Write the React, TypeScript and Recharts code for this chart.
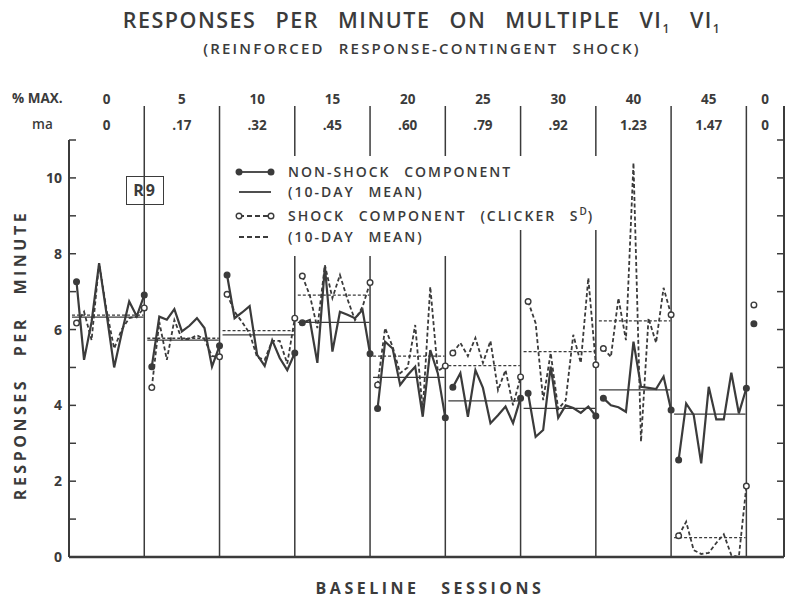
import { Legend, Line, LineChart, ReferenceLine, XAxis, YAxis } from "recharts";

// header rows above the phases
const PCT_MAX = ["0", "5", "10", "15", "20", "25", "30", "40", "45", "0"];
const MA = ["0", ".17", ".32", ".45", ".60", ".79", ".92", "1.23", "1.47", "0"];

// responses per minute, 10 sessions per phase
const NON_SHOCK = [
  [7.26, 5.2, 6.2, 7.75, 6.4, 5.0, 5.9, 6.74, 6.35, 6.91],
  [5.02, 6.34, 6.26, 6.54, 5.95, 6.1, 6.3, 6.04, 5.02, 5.57],
  [7.44, 6.3, 6.45, 6.62, 5.33, 5.04, 5.72, 5.25, 4.93, 5.38],
  [6.18, 6.25, 5.12, 7.66, 5.42, 6.47, 6.39, 6.3, 6.52, 5.36],
  [3.92, 5.68, 5.5, 4.54, 4.8, 5.02, 3.7, 5.46, 4.85, 3.67],
  [4.48, 4.85, 3.7, 4.93, 4.46, 3.53, 3.74, 3.97, 3.53, 4.19],
  [4.32, 3.17, 3.35, 5.02, 3.67, 4.0, 3.93, 3.8, 3.97, 3.72],
  [4.19, 4.0, 3.95, 3.83, 5.68, 4.49, 4.46, 4.43, 4.76, 3.88],
  [2.56, 4.05, 3.75, 2.47, 4.49, 3.63, 3.63, 4.86, 3.79, 4.45],
];

const SHOCK = [
  [6.17, 6.47, 5.72, 7.75, 6.5, 5.5, 6.0, 6.3, 6.34, 6.57],
  [4.47, 6.2, 5.2, 6.25, 5.75, 5.75, 5.85, 5.75, 5.3, 5.28],
  [6.93, 6.47, 6.2, 5.9, 5.27, 5.2, 5.7, 5.7, 5.1, 6.3],
  [7.41, 6.9, 6.04, 7.7, 6.83, 7.44, 6.8, 6.25, 6.6, 7.24],
  [4.54, 6.04, 5.55, 4.85, 5.0, 6.12, 3.85, 7.13, 4.9, 5.04],
  [5.38, 5.65, 5.3, 5.78, 5.12, 5.7, 4.4, 4.93, 4.0, 4.75],
  [6.74, 6.17, 4.14, 5.38, 3.9, 4.14, 5.86, 5.12, 7.36, 5.07],
  [5.5, 5.28, 6.83, 5.72, 10.4, 3.04, 6.3, 5.65, 7.1, 6.39],
  [0.56, 0.93, 0.18, 0.08, 0.11, 0.37, 0.6, 0.05, 0.0, 1.87],
];

// 10-day means
const NON_SHOCK_MEAN = [6.33, 5.72, 5.86, 6.19, 4.74, 4.12, 3.92, 4.41, 3.77];
const SHOCK_MEAN = [6.38, 5.77, 5.97, 6.91, 5.3, 5.05, 5.42, 6.23, 0.51];

// single return-to-baseline session
const FINAL_NON_SHOCK = 6.15;
const FINAL_SHOCK = 6.65;

const Y_TICKS = [0, 1, 2, 3, 4, 5, 6, 7, 8, 9, 10, 11];
const DIVIDERS = [10, 20, 30, 40, 50, 60, 70, 80, 90, 95];
const PHASE_CENTERS = [5, 15, 25, 35, 45, 55, 65, 75, 85, 92.5];
const X_MAX = 95;

const INK = "#3b3b3b";
const FONT = "'Open Sans', 'DejaVu Sans', sans-serif";

const phasePoints = (vals: number[], p: number) => vals.map((y, i) => ({ x: p * 10 + 1 + i, y }));
const meanPoints = (m: number, p: number) => [
  { x: p * 10 + 0.4, y: m },
  { x: p * 10 + 9.9, y: m },
];

function endDot(filled: boolean, last: number) {
  return (props: any) => {
    const { cx, cy, index } = props;
    if (index !== 0 && index !== last) return <g key={`d${index}`} />;
    return (
      <circle
        key={`d${index}`}
        cx={cx}
        cy={cy}
        r={2.8}
        fill={filled ? INK : "#fff"}
        stroke={INK}
        strokeWidth={1.4}
      />
    );
  };
}

// left axis: inward tick on every unit, label on even values
function LeftTick(props: any) {
  const { x, y, payload } = props;
  const v = payload.value;
  return (
    <g>
      <line x1={x} x2={x + 7} y1={y} y2={y} stroke={INK} strokeWidth={1.5} />
      {v % 2 === 0 && v <= 10 && (
        <text x={x - 7} y={y + 5} textAnchor="end" fontFamily={FONT} fontWeight={700} fontSize={14} fill={INK}>
          {v}
        </text>
      )}
    </g>
  );
}

function HeaderTick(props: any) {
  const { x, payload } = props;
  const i = PHASE_CENTERS.indexOf(payload.value);
  return (
    <g fontFamily={FONT} fontWeight={700} fontSize={13.5} fill={INK} textAnchor="middle">
      <text x={x} y={104}>{PCT_MAX[i]}</text>
      <text x={x} y={130}>{MA[i]}</text>
    </g>
  );
}

function LegendSymbol({ dashed, dots, filled }: { dashed: boolean; dots: boolean; filled?: boolean }) {
  return (
    <svg width={40} height={10} style={{ position: "absolute", left: 3, top: -5 }}>
      <line x1={4} x2={36} y1={5} y2={5} stroke={INK} strokeWidth={1.8} strokeDasharray={dashed ? "5 3" : undefined} />
      {dots && (
        <>
          <circle cx={4} cy={5} r={2.8} fill={filled ? INK : "#fff"} stroke={INK} strokeWidth={1.4} />
          <circle cx={36} cy={5} r={2.8} fill={filled ? INK : "#fff"} stroke={INK} strokeWidth={1.4} />
        </>
      )}
    </svg>
  );
}

function LegendBox() {
  const text: React.CSSProperties = {
    position: "absolute",
    left: 56,
    fontFamily: FONT,
    fontWeight: 600,
    fontSize: 14,
    letterSpacing: 2,
    wordSpacing: 8,
    color: INK,
    whiteSpace: "nowrap",
    lineHeight: "14px",
    top: -7,
  };
  const rows = [
    { top: 16, dashed: false, dots: true, filled: true, label: <>NON-SHOCK COMPONENT</> },
    { top: 36, dashed: false, dots: false, label: <>(10-DAY MEAN)</> },
    {
      top: 60,
      dashed: true,
      dots: true,
      filled: false,
      label: (
        <>
          SHOCK COMPONENT (CLICKER S
          <span style={{ fontSize: 10, letterSpacing: 1, position: "relative", top: -6 }}>D</span>)
        </>
      ),
    },
    { top: 81, dashed: true, dots: false, label: <>(10-DAY MEAN)</> },
  ];
  return (
    <div style={{ position: "relative", width: 370, height: 100 }}>
      <div style={{ position: "absolute", left: 0, top: 0, width: 370, height: 74, background: "#fff" }} />
      <div style={{ position: "absolute", left: 0, top: 74, width: 222, height: 26, background: "#fff" }} />
      {rows.map((r, i) => (
        <div key={i} style={{ position: "absolute", left: 0, top: r.top }}>
          <LegendSymbol dashed={r.dashed} dots={r.dots} filled={r.filled} />
          <div style={text}>{r.label}</div>
        </div>
      ))}
    </div>
  );
}

export default function App() {
  const label: React.CSSProperties = {
    position: "absolute",
    fontFamily: FONT,
    color: INK,
    whiteSpace: "nowrap",
  };
  return (
    <div style={{ position: "absolute", left: 0, top: 0, width: 791, height: 599, background: "#fff" }}>
      <LineChart width={791} height={599} margin={{ top: 139, right: 7, bottom: 41, left: 39 }}>
        <XAxis xAxisId="x" type="number" dataKey="x" domain={[0, X_MAX]} tick={false} tickLine={false} height={1}
          axisLine={{ stroke: INK, strokeWidth: 2.5 }} />
        <XAxis xAxisId="top" orientation="top" type="number" dataKey="x" domain={[0, X_MAX]} ticks={PHASE_CENTERS}
          interval={0} axisLine={false} tickLine={false} height={1} tick={<HeaderTick />} />
        <YAxis yAxisId="left" type="number" domain={[0, 11]} ticks={Y_TICKS} interval={0} width={30}
          tickSize={0} tickMargin={0} tickLine={false} axisLine={{ stroke: INK, strokeWidth: 2 }} tick={<LeftTick />} />
        {DIVIDERS.map((d) => (
          <ReferenceLine key={d} xAxisId="x" yAxisId="left" ifOverflow="visible" stroke={INK}
            strokeWidth={d === X_MAX ? 2 : 1.5} segment={[{ x: d, y: 0 }, { x: d, y: 11.9 }]} />
        ))}
        {/* inward ticks on the right-hand frame */}
        {Y_TICKS.map((t) => (
          <ReferenceLine key={`rt${t}`} xAxisId="x" yAxisId="left" ifOverflow="visible" stroke={INK}
            strokeWidth={1.5} segment={[{ x: X_MAX - 0.93, y: t }, { x: X_MAX, y: t }]} />
        ))}
        {NON_SHOCK_MEAN.map((m, p) => (
          <Line key={`nm${p}`} xAxisId="x" yAxisId="left" data={meanPoints(m, p)} dataKey="y" type="linear"
            stroke={INK} strokeWidth={1.3} dot={false} isAnimationActive={false} />
        ))}
        {SHOCK_MEAN.map((m, p) => (
          <Line key={`sm${p}`} xAxisId="x" yAxisId="left" data={meanPoints(m, p)} dataKey="y" type="linear"
            stroke={INK} strokeWidth={1.3} strokeDasharray="3 2" dot={false} isAnimationActive={false} />
        ))}
        {SHOCK.map((vals, p) => (
          <Line key={`s${p}`} xAxisId="x" yAxisId="left" data={phasePoints(vals, p)} dataKey="y" type="linear"
            stroke={INK} strokeWidth={1.8} strokeDasharray="4 2.5" dot={endDot(false, vals.length - 1)}
            activeDot={false} isAnimationActive={false} />
        ))}
        {NON_SHOCK.map((vals, p) => (
          <Line key={`n${p}`} xAxisId="x" yAxisId="left" data={phasePoints(vals, p)} dataKey="y" type="linear"
            stroke={INK} strokeWidth={2.2} dot={endDot(true, vals.length - 1)} activeDot={false}
            isAnimationActive={false} />
        ))}
        {/* the lone return-to-baseline session, bound to the top axis (same scale) so its header ticks draw */}
        <Line xAxisId="top" yAxisId="left" data={[{ x: 91, y: FINAL_NON_SHOCK }]} dataKey="y" stroke={INK}
          dot={endDot(true, 0)} isAnimationActive={false} />
        <Line xAxisId="top" yAxisId="left" data={[{ x: 91, y: FINAL_SHOCK }]} dataKey="y" stroke={INK}
          dot={endDot(false, 0)} isAnimationActive={false} />
        <Legend verticalAlign="middle" align="center" layout="horizontal" content={<LegendBox />}
          wrapperStyle={{ position: "absolute", left: 232, top: 156, width: 370, height: 100 }} />
      </LineChart>

      <div style={{ ...label, left: 0, width: 844, top: 7, textAlign: "center", fontSize: 21.5, fontWeight: 600,
        letterSpacing: 1.5, wordSpacing: 12, lineHeight: "26px" }}>
        RESPONSES PER MINUTE ON MULTIPLE VI<sub style={{ fontSize: 12 }}>1</sub> VI<sub style={{ fontSize: 12 }}>1</sub>
      </div>
      <div style={{ ...label, left: 0, width: 844, top: 39, textAlign: "center", fontSize: 15, fontWeight: 600,
        letterSpacing: 2.2, wordSpacing: 8, lineHeight: "18px" }}>
        (REINFORCED RESPONSE-CONTINGENT SHOCK)
      </div>
      <div style={{ ...label, left: 12, top: 90, fontSize: 13.5, fontWeight: 700, lineHeight: "16px" }}>% MAX.</div>
      <div style={{ ...label, left: 32, top: 116, fontSize: 13.5, fontWeight: 600, lineHeight: "16px" }}>ma</div>
      <div style={{ ...label, left: 126, top: 176, width: 36, height: 27, border: `1.5px solid ${INK}`,
        fontSize: 16, fontWeight: 700, textAlign: "center", lineHeight: "27px", letterSpacing: 2 }}>R9</div>
      <div style={{ ...label, left: 20, top: 355, transform: "translate(-50%, -50%) rotate(-90deg)", fontSize: 16,
        fontWeight: 700, letterSpacing: 3.5, wordSpacing: 14, lineHeight: "20px" }}>
        RESPONSES PER MINUTE
      </div>
      <div style={{ ...label, left: 430, top: 588, transform: "translate(-50%, -50%)", fontSize: 16, fontWeight: 700,
        letterSpacing: 3.5, wordSpacing: 14, lineHeight: "20px" }}>
        BASELINE SESSIONS
      </div>
    </div>
  );
}
